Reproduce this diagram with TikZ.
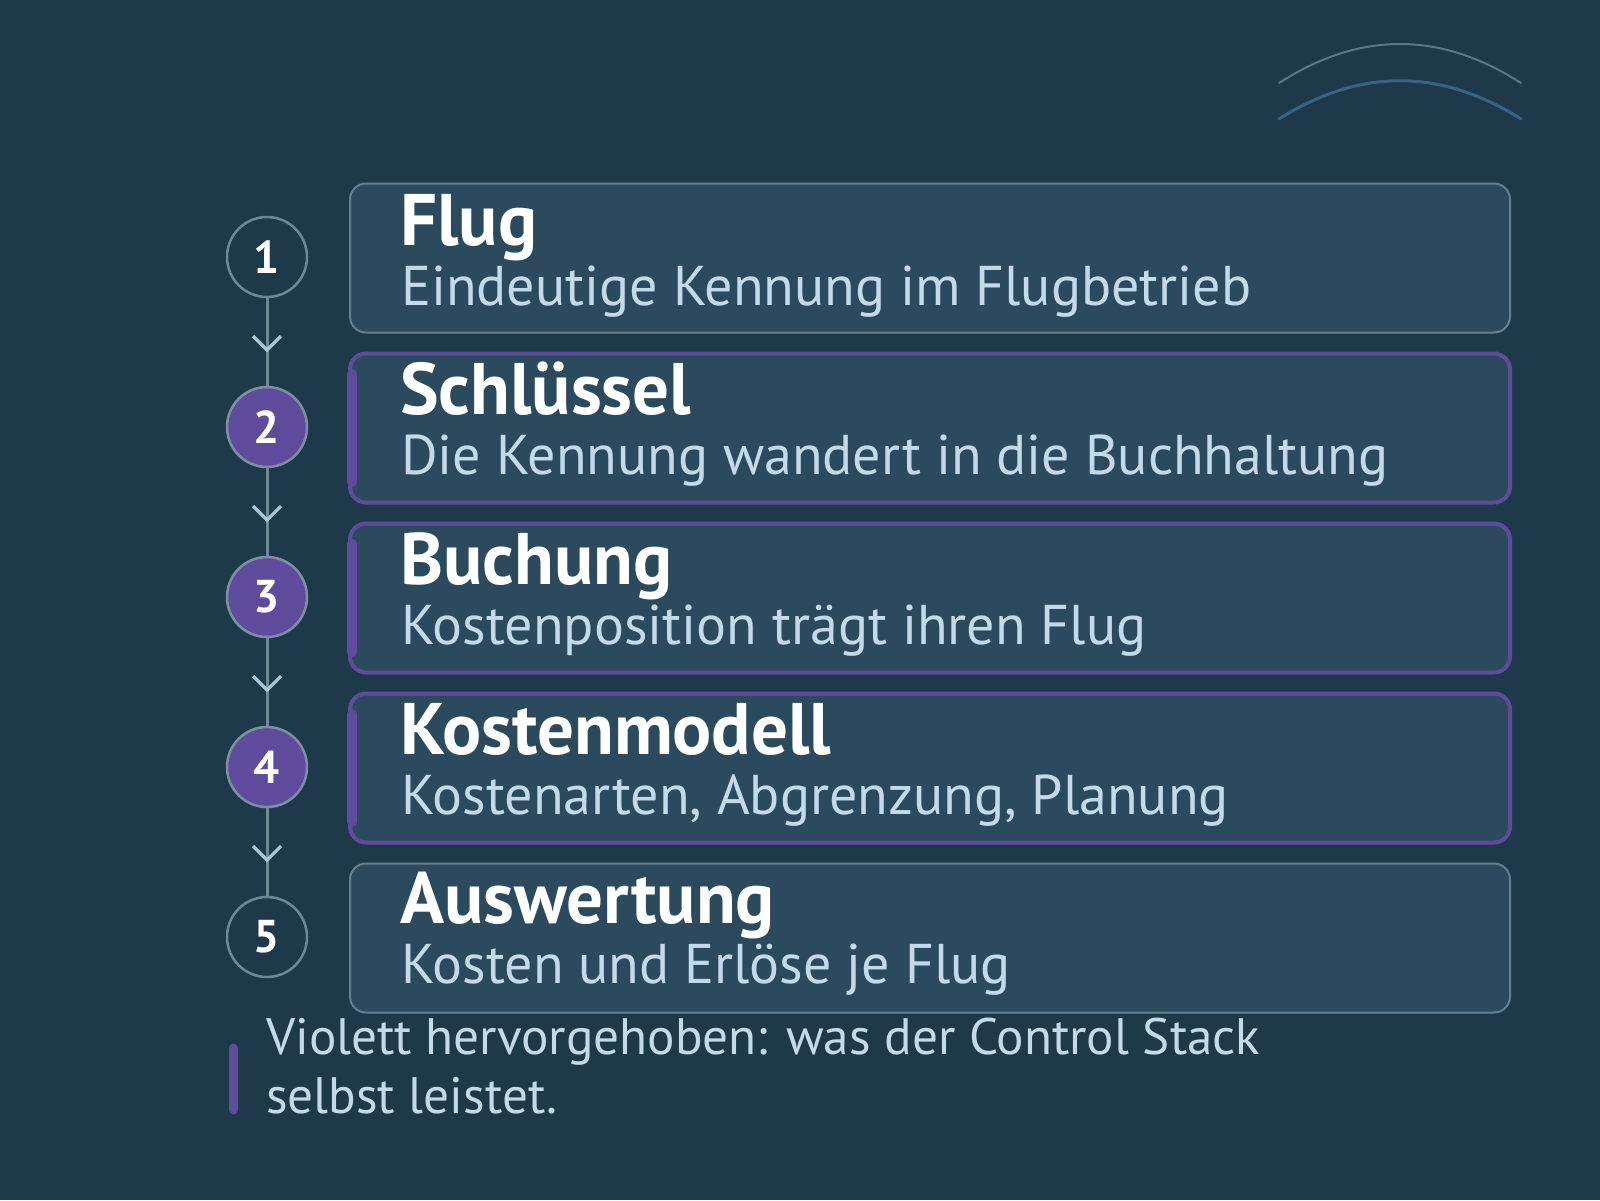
\documentclass[tikz,border=0pt]{standalone}
\usepackage{fontspec}
\setmainfont{PT Sans}
\usetikzlibrary{calc}
\definecolor{bg}{HTML}{1E3949}
\definecolor{boxfill}{HTML}{2C4A5D}
\definecolor{boxline}{HTML}{647F8E}
\definecolor{violet}{HTML}{5E4B9C}
\definecolor{conn}{HTML}{6E8896}
\definecolor{chevc}{HTML}{A8C6D5}
\definecolor{ringline}{HTML}{7F8FA3}
\definecolor{subtxt}{HTML}{C3DAEA}
\definecolor{arcA}{HTML}{5C7888}
\definecolor{arcB}{HTML}{3A6283}
\begin{document}
\begin{tikzpicture}[x=1pt,y=-1pt,
  stepbox/.style={draw=boxline, line width=2pt, fill=boxfill, rounded corners=16pt, minimum width=1160pt, minimum height=149pt, inner sep=0pt},
  hlbox/.style={stepbox, draw=violet, line width=4pt},
  numcirc/.style={circle, draw=conn, line width=2.5pt, fill=bg, minimum size=80pt, inner sep=0pt, text=white, font=\fontsize{46}{46}\selectfont\bfseries},
  hlcirc/.style={numcirc, draw=ringline, fill=violet},
  titletext/.style={anchor=base west, inner sep=0pt, text=white, font=\fontsize{73}{73}\selectfont\bfseries},
  subtext/.style={anchor=base west, inner sep=0pt, text=subtxt, font=\fontsize{56}{56}\selectfont},
  legendtext/.style={anchor=base west, inner sep=0pt, text=subtxt, font=\fontsize{51.2}{51}\selectfont},
  link/.style={draw=conn, line width=3pt},
  chevron/.style={draw=chevc, line width=3.2pt, line join=miter},
  accent/.style={draw=violet, line width=10pt, line cap=round}
]
\fill[bg] (0,0) rectangle (1600,1200);
\useasboundingbox (0,0) rectangle (1600,1200);

% decorative arcs
\draw[arcA, line width=2pt, line cap=round] (1279,83) .. controls (1360,31) and (1440,31) .. (1521,83);
\draw[arcB, line width=3pt, line cap=round] (1279,119) .. controls (1360,68) and (1440,68) .. (1521,119);

% boxes
\node[stepbox] (b1) at (930,258) {};
\node[hlbox]   (b2) at (930,428) {};
\node[hlbox]   (b3) at (930,598) {};
\node[hlbox]   (b4) at (930,768) {};
\node[stepbox] (b5) at (930,938) {};

% accent bars in highlighted boxes
\foreach \b in {b2,b3,b4}{
  \draw[accent] ($(\b.west)+(4,-54)$) -- ($(\b.west)+(4,54)$);
}

% connectors
\coordinate (m1) at (267,350);
\coordinate (m2) at (267,520);
\coordinate (m3) at (267,690);
\coordinate (m4) at (267,860);

\node[numcirc] (c1) at (267,257) {1};
\node[hlcirc]  (c2) at (267,427) {2};
\node[hlcirc]  (c3) at (267,597) {3};
\node[hlcirc]  (c4) at (267,767) {4};
\node[numcirc] (c5) at (267,937) {5};

\foreach \a/\m/\c in {c1/m1/c2, c2/m2/c3, c3/m3/c4, c4/m4/c5}{
  \draw[link] (\a) -- (\c);
  \draw[chevron] ($(\m)+(-14,-14)$) -- (\m) -- ($(\m)+(14,-14)$);
}

% texts
\node[titletext] (t1) at (400,245) {Flug};
\node[subtext]   (s1) at (401,305) {Eindeutige Kennung im Flugbetrieb};
\node[titletext] (t2) at (400,414) {Schlüssel};
\node[subtext]   (s2) at (401,474) {Die Kennung wandert in die Buchhaltung};
\node[titletext] (t3) at (400,584) {Buchung};
\node[subtext]   (s3) at (401,644) {Kostenposition trägt ihren Flug};
\node[titletext] (t4) at (400,754) {Kostenmodell};
\node[subtext]   (s4) at (401,814) {Kostenarten, Abgrenzung, Planung};
\node[titletext] (t5) at (400,923) {Auswertung};
\node[subtext]   (s5) at (401,983) {Kosten und Erlöse je Flug};

% legend
\draw[accent, line width=9pt] (233,1048) -- (233,1110);
\node[legendtext] (l1) at (266,1054) {Violett hervorgehoben: was der Control Stack};
\node[legendtext] (l2) at (266,1113) {selbst leistet.};
\end{tikzpicture}
\end{document}
